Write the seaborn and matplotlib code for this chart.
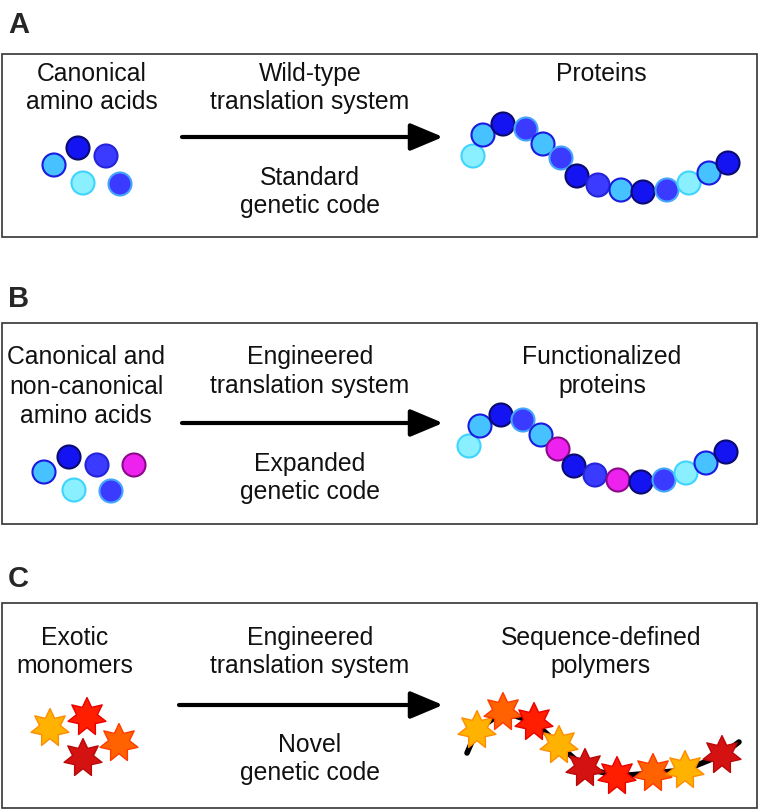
import numpy as np
import pandas as pd
import matplotlib.pyplot as plt
import seaborn as sns
from matplotlib.path import Path
from matplotlib.patches import Rectangle

sns.set_theme(style='white')
plt.rcParams['font.family'] = ['Liberation Sans', 'DejaVu Sans']

# --- panels -------------------------------------------------------------
panel_labels = ['A', 'B', 'C']
panel_label_y = [25, 299, 579]
panel_top = [54, 323, 603]
panel_bottom = [237, 524, 808]

arrow_y = [137, 423, 705]
arrow_x0 = [182, 182, 179]
arrow_x1 = [443, 443, 443]

# text lines: (x, baseline y, text)
texts_a = [(92, 81, 'Canonical'), (92, 109, 'amino acids'),
           (310, 81, 'Wild-type'), (310, 109, 'translation system'),
           (601, 81, 'Proteins'),
           (310, 185, 'Standard'), (310, 213, 'genetic code')]
texts_b = [(86, 364, 'Canonical and'), (86, 394, 'non-canonical'), (86, 423, 'amino acids'),
           (310, 364, 'Engineered'), (310, 393, 'translation system'),
           (602, 364, 'Functionalized'), (602, 393, 'proteins'),
           (310, 471, 'Expanded'), (310, 499, 'genetic code')]
texts_c = [(75, 645, 'Exotic'), (75, 673, 'monomers'),
           (310, 645, 'Engineered'), (310, 673, 'translation system'),
           (601, 645, 'Sequence-defined'), (601, 673, 'polymers'),
           (310, 752, 'Novel'), (310, 780, 'genetic code')]

# --- residues ------------------------------------------------------------
a_free_x = [54, 78, 106, 83, 120]
a_free_y = [165, 148, 156, 183, 184]
a_free_kind = ['sky', 'navy', 'blue1', 'cyan', 'blue2']

a_chain_x = [473, 483, 503, 526, 543, 561, 577, 598, 621, 643, 667, 689, 709, 728]
a_chain_y = [156, 135, 124, 129, 144, 158, 176, 185, 190, 192, 190, 183, 173, 163]
a_chain_kind = ['cyan', 'sky', 'navy', 'blue2', 'sky', 'blue2', 'navy',
                'blue1', 'sky', 'navy', 'blue2', 'cyan', 'sky', 'navy']

b_free_x = [44, 69, 97, 134, 74, 111]
b_free_y = [472, 457, 465, 465, 490, 491]
b_free_kind = ['sky', 'navy', 'blue1', 'magenta', 'cyan', 'blue2']

b_chain_x = [469, 480, 501, 523, 541, 558, 574, 595, 618, 641, 664, 686, 706, 726]
b_chain_y = [446, 426, 415, 420, 435, 449, 466, 475, 480, 482, 480, 473, 463, 452]
b_chain_kind = ['cyan', 'sky', 'navy', 'blue2', 'sky', 'magenta', 'navy',
                'blue1', 'magenta', 'navy', 'blue2', 'cyan', 'sky', 'navy']

c_free_x = [50, 87, 119, 83]
c_free_y = [728, 717, 743, 758]
c_free_kind = ['amber', 'red', 'orange', 'darkred']

c_chain_x = [477, 503, 534, 559, 585, 617, 653, 685, 722]
c_chain_y = [730, 712, 722, 745, 768, 776, 773, 770, 755]
c_chain_kind = ['amber', 'orange', 'red', 'amber', 'darkred', 'red', 'orange', 'amber', 'darkred']

backbone_x = [467, 477, 503, 534, 559, 585, 617, 653, 685, 722, 739]
backbone_y = [753, 730, 712, 722, 745, 768, 776, 773, 770, 755, 742]

fill = {'cyan': '#8af0ff', 'sky': '#45c2ff', 'navy': '#1414f2', 'blue1': '#3b3bff',
        'blue2': '#3b3bff', 'magenta': '#ee22ee',
        'amber': '#ffb300', 'orange': '#ff6200', 'red': '#ff1e00', 'darkred': '#d41212'}
edge = {'cyan': '#3fd4ff', 'sky': '#1a1ae0', 'navy': '#0a0a70', 'blue1': '#2424d8',
        'blue2': '#45a5ff', 'magenta': '#8a0a8a',
        'amber': '#ff8c00', 'orange': '#ff3a00', 'red': '#e80000', 'darkred': '#b80808'}

star = Path.unit_regular_star(7, innerCircle=0.55)

fig = plt.figure(figsize=(7.59, 8.11), dpi=100)
ax = fig.add_axes([0, 0, 1, 1])


def beads(xs, ys, kinds, marker='o', s=275, lw=1.5):
    df = pd.DataFrame({'x': xs, 'y': ys, 'kind': kinds})
    sns.scatterplot(data=df, x='x', y='y', hue='kind', palette=fill, marker=marker,
                    s=s, linewidth=lw, edgecolor=[edge[k] for k in kinds],
                    legend=False, ax=ax, zorder=3)


for lab, ly, top, bot in zip(panel_labels, panel_label_y, panel_top, panel_bottom):
    ax.text(8, ly, lab, fontsize=21, fontweight='bold', ha='left', va='center')
    ax.add_patch(Rectangle((1.5, top), 755, bot - top, fill=False, lw=1.2, ec='#333333'))

for y, x0, x1 in zip(arrow_y, arrow_x0, arrow_x1):
    ax.annotate('', xy=(x1, y), xytext=(x0, y),
                arrowprops=dict(arrowstyle='-|>,head_length=1.0,head_width=0.42',
                                mutation_scale=20, lw=3, color='black',
                                shrinkA=0, shrinkB=0))

for x, y, t in texts_a + texts_b + texts_c:
    ax.text(x, y, t, fontsize=17.8, ha='center', va='baseline', color='#111111')

beads(a_free_x, a_free_y, a_free_kind)
beads(a_chain_x, a_chain_y, a_chain_kind)
beads(b_free_x, b_free_y, b_free_kind)
beads(b_chain_x, b_chain_y, b_chain_kind)

bb = pd.DataFrame({'x': backbone_x, 'y': backbone_y})
sns.lineplot(data=bb, x='x', y='y', sort=False, estimator=None, color='black',
             lw=4, solid_capstyle='round', ax=ax, zorder=2)
beads(c_free_x, c_free_y, c_free_kind, marker=star, s=780, lw=1.0)
beads(c_chain_x, c_chain_y, c_chain_kind, marker=star, s=780, lw=1.0)

ax.set_xlim(0, 759)
ax.set_ylim(811, 0)
ax.axis('off')
fig.savefig('out.png', dpi=100)
